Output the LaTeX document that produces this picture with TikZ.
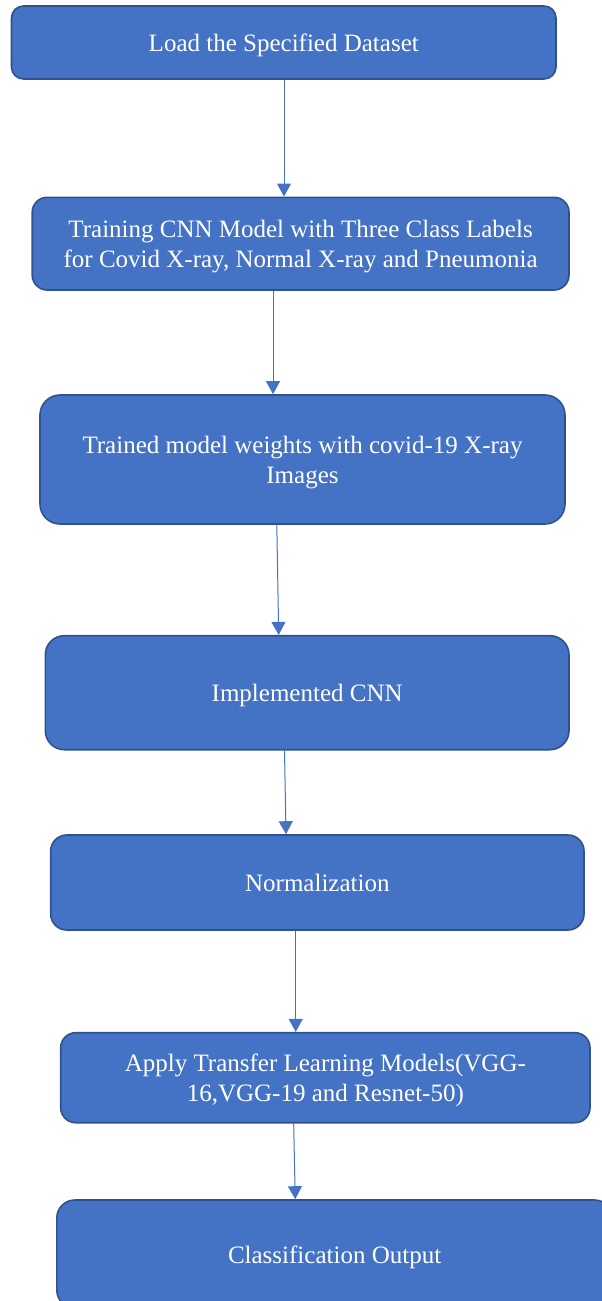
\documentclass[tikz,border=0pt]{standalone}
\usepackage{fontspec}
\setmainfont{Liberation Serif}
\usetikzlibrary{arrows.meta}
\definecolor{boxfill}{HTML}{4472C4}
\definecolor{boxedge}{HTML}{2F528F}
\definecolor{arrowc}{HTML}{4472C4}
\newcommand\lnstrut{\rule[-5pt]{0pt}{28.4pt}}
\tikzset{
  flowbox/.style={draw=boxedge, fill=boxfill, line width=1.6pt, text=white,
    align=center, inner sep=0pt, font=\fontsize{25}{28.5}\selectfont},
  flowarrow/.style={draw=arrowc, line width=1pt, -{Triangle[length=13pt,width=14pt]}}
}
\begin{document}
\begin{tikzpicture}[x=1pt,y=-1pt]
\useasboundingbox (0,0) rectangle (602,1301);
\clip (0,0) rectangle (602,1301);
\node[flowbox, minimum width=544.5pt, minimum height=73pt, rounded corners=12pt] (b1) at (283.75,42.5) {\lnstrut Load the Specified Dataset};
\node[flowbox, minimum width=536.8pt, minimum height=92.7pt, rounded corners=15pt] (b2) at (300.6,243.65) {\lnstrut Training CNN Model with Three Class Labels\\\lnstrut for Covid X-ray, Normal X-ray and Pneumonia};
\node[flowbox, minimum width=525pt, minimum height=129pt, rounded corners=20pt] (b3) at (302.5,459.5) {\lnstrut Trained model weights with covid-19 X-ray\\\lnstrut Images};
\node[flowbox, minimum width=523.7pt, minimum height=114pt, rounded corners=19pt] (b4) at (307.15,692.7) {\lnstrut Implemented CNN};
\node[flowbox, minimum width=533.3pt, minimum height=95pt, rounded corners=16pt] (b5) at (317.35,882.5) {\lnstrut Normalization};
\node[flowbox, minimum width=529.3pt, minimum height=90pt, rounded corners=15pt] (b6) at (325.35,1077.7) {\lnstrut Apply Transfer Learning Models(VGG-\\\lnstrut 16,VGG-19 and Resnet-50)};
\node[flowbox, minimum width=555.6pt, minimum height=108pt, rounded corners=18pt] (b7) at (334.6,1254) {\lnstrut Classification Output};
\draw[flowarrow] ([xshift=0.25pt]b1.south) -- ([xshift=-16.6pt]b2.north);
\draw[flowarrow] ([xshift=-27.6pt]b2.south) -- ([xshift=-29.5pt]b3.north);
\draw[flowarrow] ([xshift=-25.7pt]b3.south) -- ([xshift=-28.45pt]b4.north);
\draw[flowarrow] ([xshift=-22.65pt]b4.south) -- ([xshift=-31.35pt]b5.north);
\draw[flowarrow] ([xshift=-21.65pt]b5.south) -- ([xshift=-29.65pt]b6.north);
\draw[flowarrow] ([xshift=-31.65pt]b6.south) -- ([xshift=-39.4pt]b7.north);
\end{tikzpicture}
\end{document}
